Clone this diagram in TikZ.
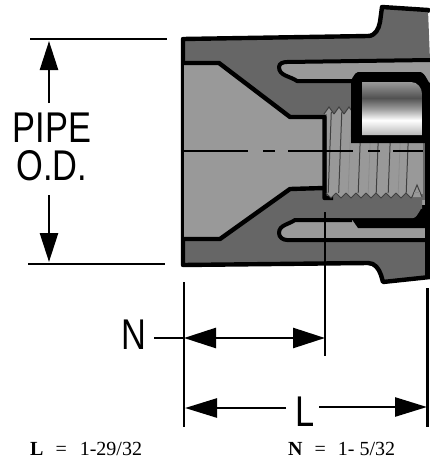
\documentclass[tikz,border=0pt]{standalone}
\usepackage{fontspec}
\setmainfont{Liberation Serif}
\newfontfamily\dimfont[FakeStretch=0.8]{Liberation Sans}
\usetikzlibrary{arrows.meta}
\definecolor{bodygray}{HTML}{666666}
\definecolor{boregray}{HTML}{999999}
\pgfdeclareverticalshading{cylshade}{100bp}{
    color(0bp)=(boregray!70!white);
    color(25bp)=(boregray!70!white);
    color(39bp)=(white);
    color(50bp)=(boregray);
    color(60bp)=(black!68);
    color(75bp)=(boregray);
    color(100bp)=(boregray)}
\newcommand{\outerbody}{%
    (183,39) -- (368,36) to [out=0, in=-100] (380,22) -- (382,7) -- (428,10)
    -- (430,60) -- (430,277) -- (383,282) -- (381,275) to [out=110, in=0] (368,263)
    -- (183,265) -- cycle
}
\newcommand{\boreshape}{%
    (184,63) -- (219,63) -- (290,117) -- (325,117) -- (325,188) -- (290,189)
    -- (220,239) -- (184,239) -- cycle
}
\newcommand{\upperslot}{%
    (430,60) -- (287,62) to [out=180, in=90] (279,67) to [out=-90, in=145] (297,81) -- (352,81)
}
\newcommand{\lowerslot}{%
    (430,240) -- (287,240) to [out=180, in=-90] (279,233) to [out=90, in=-145] (295,220) -- (352,220)
}
\tikzset{
    outline/.style={line width=4.4pt, line join=round},
    slotline/.style={line width=4pt, line join=round},
    threadline/.style={line width=1pt, black!75},
    threadfaint/.style={line width=.8pt, black!45},
    dimline/.style={line width=2.6pt},
    dimup/.style={dimline, -{Triangle[length=29pt,width=18pt]}},
    dimflat/.style={dimline, -{Triangle[length=32pt,width=19pt]}},
    biglabel/.style={font=\dimfont\fontsize{43}{38.5}\selectfont, inner sep=0pt, align=center},
    sizelabel/.style={font=\fontsize{20}{22}\selectfont, inner sep=0pt, anchor=base west},
}
\begin{document}
\begin{tikzpicture}[x=1pt,y=-1pt]
\useasboundingbox (0,0) rectangle (430,461);

% body
\fill [bodygray] \outerbody;
\draw [outline] (430,11) -- (428,10) -- (382,7) -- (380,22) to [out=-100, in=0] (368,36) -- (183,39)
    -- (183,265) -- (368,263) to [out=0, in=110] (381,275) -- (383,282) -- (430,277);

% bore
\fill [boregray] \boreshape;
\draw [outline] (184,63) -- (219,63) -- (290,117) -- (324.5,117) -- (324.5,198) -- (333,198);
\draw [outline] (184,239) -- (220,239) -- (290,189) -- (324.5,188);

% slots
\fill [boregray] \upperslot -- (352,100) -- (430,100) -- cycle;
\draw [slotline] \upperslot;
\fill [boregray] \lowerslot -- (352,200) -- (430,200) -- cycle;
\draw [slotline] \lowerslot;

% band under the thread
\fill [black] (351,218) -- (358,228) -- (430,228) -- (430,205) -- (414,205) -- (414,218) -- cycle;
\fill [bodygray] (340,198) -- (422,198) -- (422,209) to [out=90, in=0] (413,218) -- (340,218) -- cycle;

% thread
\fill [boregray] (327,113) rectangle (352,143);
\fill [boregray] (327,140) rectangle (423,194);
\foreach \tx in {331,341,351,361,371,381,391,401,411}
    \draw [threadline,fill=boregray] (\tx-5,193) -- (\tx,198) -- (\tx+5,193);
\foreach \tx in {329,339,349}
    \draw [threadline,fill=boregray] (\tx-5,114) -- (\tx,107) -- (\tx+5,114);
\draw [threadline,fill=boregray] (412,197) -- (417,185) -- (422,197);
\draw [threadfaint] (414,192) -- (420,192);
\foreach \tx in {330,340.5,360,378,390,408}
    \draw [threadline] (\tx+1.3,112) -- (\tx-1.8,193);
\foreach \tx in {350,370,400}
    \draw [threadfaint] (\tx+1.3,112) -- (\tx-1.8,193);

% box and its cut
\fill [black] (351,143) -- (351,79) to [out=-90, in=180] (358,72) -- (420,72) to [out=0, in=-90] (430,82)
    -- (430,143) -- cycle;
\fill [black] (425,140) rectangle (430,278);
\shade [shading=cylshade] (362,82) -- (411,82) to [out=0, in=90] (422,94) -- (422,135) -- (362,135) -- cycle;

% center line
\draw [line width=1.5pt, dash pattern=on 65pt off 15pt on 12pt off 13pt] (183,151) -- (423,151);

% dimension lines and labels
\coordinate (ODtopa) at (30,39);
\coordinate (ODtopb) at (167,39);
\coordinate (ODbota) at (28,264);
\coordinate (ODbotb) at (165,264);
\coordinate (ODup) at (49,103);
\coordinate (ODuptip) at (49,41);
\coordinate (ODdown) at (49,195);
\coordinate (ODdowntip) at (49,262);
\draw [dimline] (ODtopa) -- (ODtopb);
\draw [dimline] (ODbota) -- (ODbotb);
\draw [dimup] (ODup) -- (ODuptip);
\draw [dimup] (ODdown) -- (ODdowntip);
\node [biglabel] (pipeod) at (52,147) {PIPE\\O.D.};

\coordinate (LEFTa) at (184,282);
\coordinate (LEFTb) at (184,427);
\coordinate (MIDa) at (325,212);
\coordinate (MIDb) at (325,356);
\coordinate (RIGHTa) at (427.5,288);
\coordinate (RIGHTb) at (427.5,427);
\draw [dimline] (LEFTa) -- (LEFTb);
\draw [dimline] (MIDa) -- (MIDb);
\draw [dimline] (RIGHTa) -- (RIGHTb);

\node [biglabel] (Nlabel) at (134,335) {N};
\coordinate (Ntick) at (154,338);
\coordinate (Nleft) at (184,338);
\coordinate (Nmid) at (325,338);
\draw [dimline] (Ntick) -- (Nleft);
\draw [dimline,{Triangle[length=32pt,width=20pt]}-{Triangle[length=32pt,width=20pt]}] (Nleft) -- (Nmid);

\node [biglabel] (Llabel) at (305,412) {L};
\coordinate (Lleft) at (185,408);
\coordinate (Lstart) at (286,408);
\coordinate (Lend) at (319,407);
\coordinate (Lright) at (427,407);
\draw [dimflat] (Lstart) -- (Lleft);
\draw [dimflat] (Lend) -- (Lright);

% sizes
\node [sizelabel] (Lsize) at (30,455) {\textbf{L}\hspace{12pt}=\hspace{13pt}1-29/32};
\node [sizelabel] (Nsize) at (288,455) {\textbf{N}\hspace{12pt}=\hspace{12pt}1- 5/32};

\end{tikzpicture}
\end{document}
